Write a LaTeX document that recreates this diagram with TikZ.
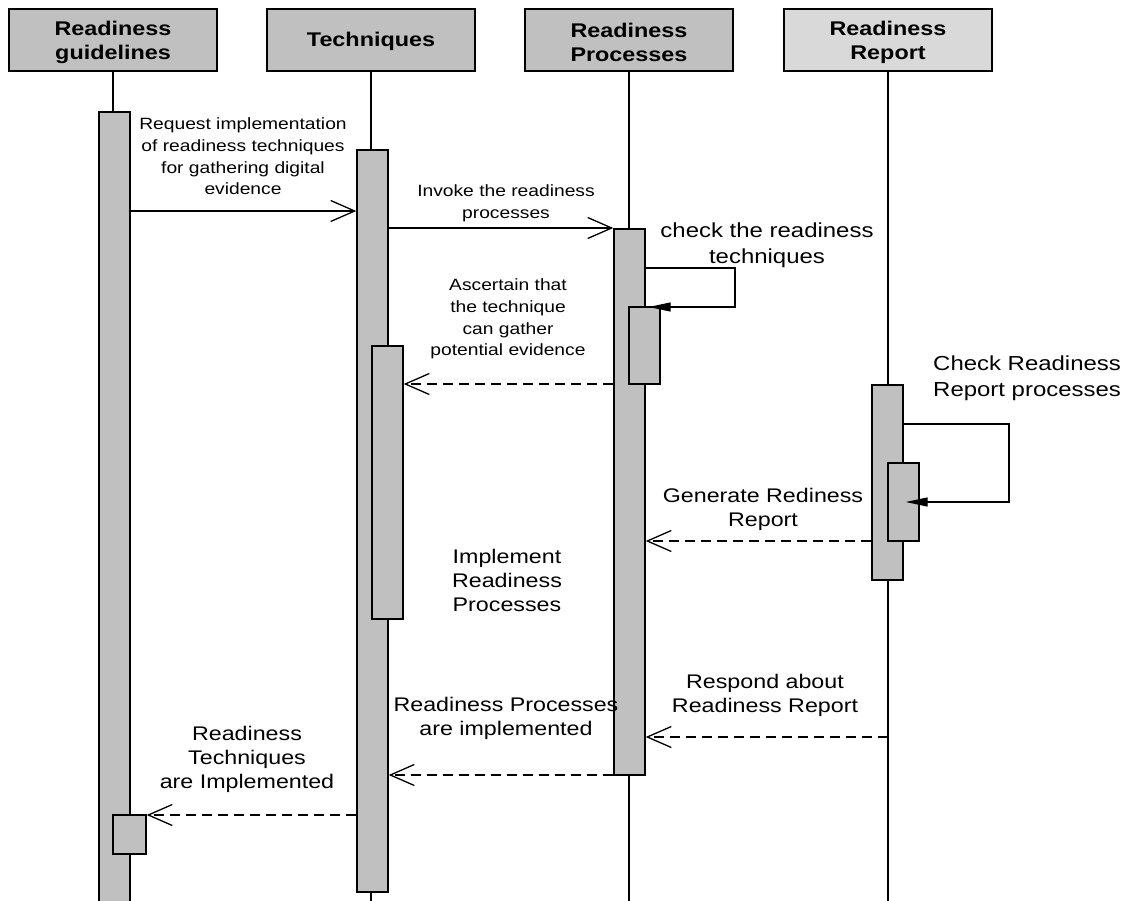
\documentclass[tikz,border=0pt]{standalone}
\usepackage{fontspec}
\setmainfont[FakeStretch=1.18]{Liberation Sans}
\usetikzlibrary{arrows.meta}
\definecolor{headgray}{HTML}{C0C0C0}
\definecolor{reportgray}{HTML}{D9D9D9}
\definecolor{actgray}{HTML}{C0C0C0}
\begin{document}
\begin{tikzpicture}[x=1pt,y=-1pt,
  head/.style={draw=black, line width=1.4pt, fill=headgray, minimum width=208pt,
    minimum height=62pt, inner sep=0pt, align=center,
    font=\bfseries\fontsize{19.8}{24}\selectfont},
  act/.style={draw=black, line width=1.4pt, fill=actgray, minimum width=31pt, inner sep=0pt},
  life/.style={line width=1.2pt},
  msg/.style={line width=1.3pt, -{Straight Barb[length=24pt,width=21pt]}},
  reply/.style={msg, dash pattern=on 10pt off 6pt},
  selfmsg/.style={line width=1.3pt, -{Triangle[length=22pt,width=9pt]}},
  small/.style={align=center, inner sep=0pt, font=\fontsize{16.3}{21.7}\selectfont},
  medium/.style={align=center, inner sep=0pt, font=\fontsize{19.7}{24}\selectfont},
  large/.style={align=center, inner sep=0pt, font=\fontsize{20.3}{25.5}\selectfont}]

\useasboundingbox (0,0) rectangle (1127,901);

% lifeline heads
\node[head] (H1) at (113,40) {};
\node[head] (H2) at (371,40) {};
\node[head] (H3) at (629,40) {};
\node[head, fill=reportgray] (H4) at (888,40) {};
\node[head, draw=none, fill=none] (H1t) at (113,42) {Readiness\\guidelines};
\node[head, draw=none, fill=none] (H2t) at (371,41) {Techniques};
\node[head, draw=none, fill=none] (H3t) at (629,42) {Readiness\\Processes};
\node[head, draw=none, fill=none] (H4t) at (888,42) {Readiness\\Report};

% lifelines
\coordinate (bottom) at (0,905);
\foreach \h in {H1,H2,H3,H4}
  \draw[life] (\h.south) -- (\h.south |- bottom);

% activation bars
\node[act, minimum height=793pt] (A1) at (114.5,508.5) {};
\node[act, minimum height=742pt] (A2) at (372.5,521) {};
\node[act, minimum height=546pt] (A3) at (629.5,502) {};
\node[act, minimum height=195pt] (A4) at (887.5,482.5) {};
\node[act, minimum width=33pt, minimum height=39pt] (A1b) at (129.5,834.5) {};
\node[act, minimum height=273pt] (A2b) at (387.5,482.5) {};
\node[act, minimum height=77pt] (A3b) at (644.5,345.5) {};
\node[act, minimum height=78pt] (A4b) at (903.5,502) {};

% message levels
\coordinate (y1) at (0,211);
\coordinate (y2) at (0,228);
\coordinate (y4) at (0,384);
\coordinate (y6) at (0,541);
\coordinate (y8) at (0,737);
\coordinate (y9) at (0,775);
\coordinate (y10) at (0,815);

% self-call corners
\coordinate (S1a) at (735,268);
\coordinate (S1b) at (735,307);
\coordinate (S2a) at (1009,424);
\coordinate (S2b) at (1009,502);

% messages
\draw[msg] (A1.east |- y1) -- (A2.west |- y1);
\draw[msg] (A2.east |- y2) -- (A3.west |- y2);
\draw[selfmsg] (A3.east |- S1a) -- (S1a) -- (S1b) -- ([xshift=-12pt]A3b.east |- S1b);
\draw[reply] (A3.west |- y4) -- (A2b.east |- y4);
\draw[selfmsg] (A4.east |- S2a) -- (S2a) -- (S2b) -- ([xshift=-14pt]A4b.east |- S2b);
\draw[reply] (A4.west |- y6) -- (A3.east |- y6);
\draw[reply] (H4.south |- y8) -- (A3.east |- y8);
\draw[reply] (A3.west |- y9) -- (A2.east |- y9);
\draw[reply] (A2.west |- y10) -- (A1b.east |- y10);

% labels
\node[small] (t1) at (243,156.5) {Request implementation\\of readiness techniques\\for gathering digital\\evidence};
\node[small] (t2) at (506,203) {Invoke the readiness\\processes};
\node[large] (t3) at (767,245.5) {check the readiness\\techniques};
\node[small] (t4) at (508,319) {Ascertain that\\the technique\\can gather\\potential evidence};
\node[large, align=left, anchor=west] (t5) at (933,378.5) {Check Readiness\\Report processes};
\node[medium] (t6) at (763,509.5) {Generate Rediness\\Report};
\node[medium] (t7) at (507,580) {Implement\\Readiness\\Processes};
\node[medium] (t8) at (765,695) {Respond about\\Readiness Report};
\node[medium] (t9) at (506,718) {Readiness Processes\\are implemented};
\node[medium] (t10) at (247,759) {Readiness\\Techniques\\are Implemented};
\end{tikzpicture}
\end{document}
